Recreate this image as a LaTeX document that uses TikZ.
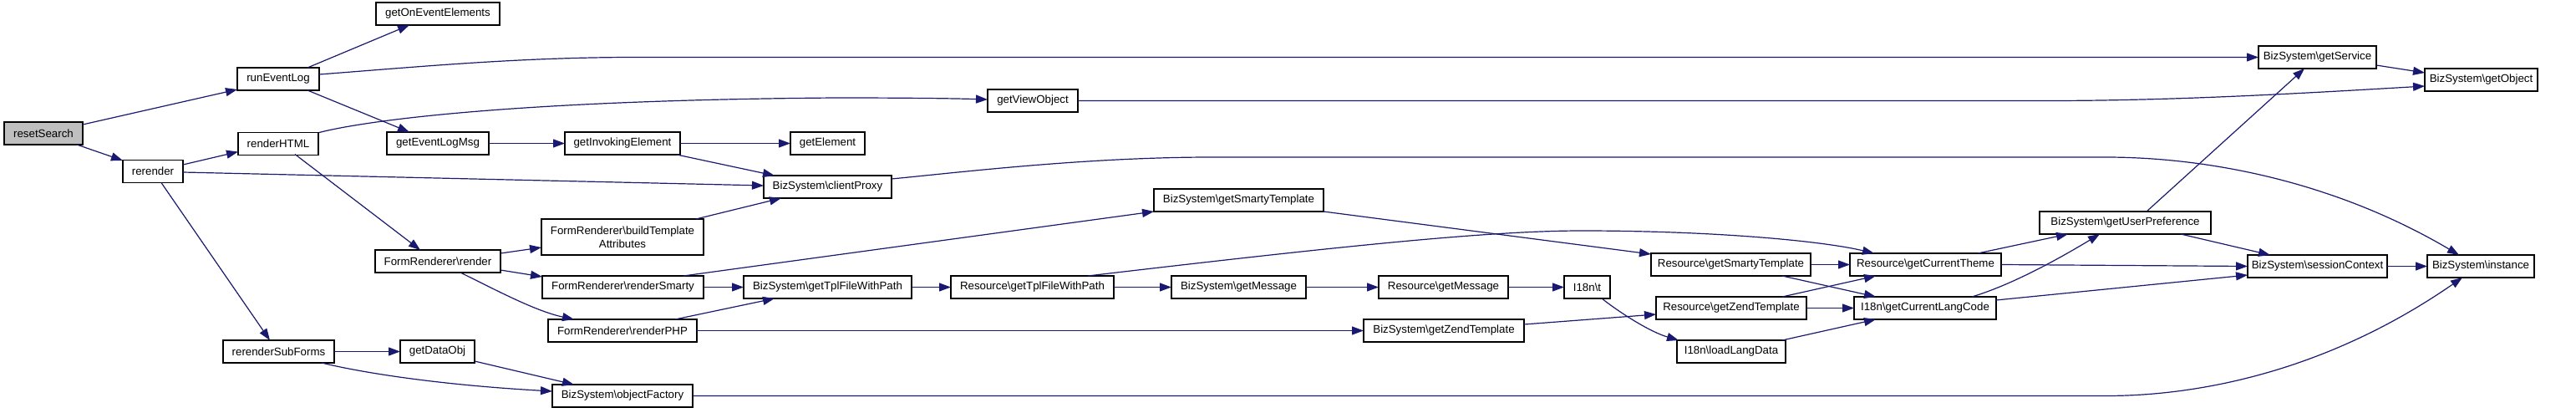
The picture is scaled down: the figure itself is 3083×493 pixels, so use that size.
\documentclass[tikz,border=0pt]{standalone}
\usepackage{fontspec}
\setmainfont{Liberation Sans}
\usetikzlibrary{arrows.meta,calc}
\definecolor{edgec}{RGB}{25,25,112}
\definecolor{rootfill}{RGB}{191,191,191}
\begin{document}
\begin{tikzpicture}[x=1pt,y=-1pt,
  box/.style={draw=black, line width=1.2pt, inner sep=0pt, outer sep=0pt, minimum height=27pt, font=\fontsize{13.3}{16}\selectfont, align=center, fill=white},
  edge/.style={draw=edgec, line width=1.2pt, -{Triangle[length=14pt,width=10pt]}}]
\fill[white] (0,0) rectangle (3083,493);
\useasboundingbox (0,0) rectangle (3083,493);
\node[box, fill=rootfill, minimum width=94pt] (rs) at (52,159.5) {resetSearch};
\node[box, minimum width=98pt] (rel) at (333,94.5) {runEventLog};
\node[box, minimum width=72pt] (rr) at (183,205) {rerender};
\node[box, minimum width=96pt] (rh) at (333,172) {renderHTML};
\node[box, minimum width=133pt] (rsf) at (333.5,420.5) {rerenderSubForms};
\node[box, minimum width=148pt] (goee) at (524,16.5) {getOnEventElements};
\node[box, minimum width=122pt] (gelm) at (524,171.5) {getEventLogMsg};
\node[box, minimum width=150pt] (frr) at (524,312.5) {FormRenderer\textbackslash render};
\node[box, minimum width=89pt] (gdo) at (523.5,420.5) {getDataObj};
\node[box, minimum width=138pt] (gie) at (745,171.5) {getInvokingElement};
\node[box, minimum width=89pt] (ge) at (990.5,171.5) {getElement};
\node[box, minimum width=153pt] (cp) at (990.5,223.5) {BizSystem\textbackslash clientProxy};
\node[box, minimum width=194pt, minimum height=43pt] (bta) at (745,283.5) {FormRenderer\textbackslash buildTemplate\\Attributes};
\node[box, minimum width=193pt] (rsm) at (745.5,343.5) {FormRenderer\textbackslash renderSmarty};
\node[box, minimum width=178pt] (rphp) at (745,395.5) {FormRenderer\textbackslash renderPHP};
\node[box, minimum width=168pt] (of) at (745,473.5) {BizSystem\textbackslash objectFactory};
\node[box, minimum width=201pt] (gtfp) at (990.5,343.5) {BizSystem\textbackslash getTplFileWithPath};
\node[box, minimum width=108pt] (gvo) at (1236,120.5) {getViewObject};
\node[box, minimum width=203pt] (bgst) at (1482.5,239.5) {BizSystem\textbackslash getSmartyTemplate};
\node[box, minimum width=195pt] (rgtfp) at (1235.5,343.5) {Resource\textbackslash getTplFileWithPath};
\node[box, minimum width=161pt] (bgm) at (1482.5,343.5) {BizSystem\textbackslash getMessage};
\node[box, minimum width=155pt] (rgm) at (1727.5,343.5) {Resource\textbackslash getMessage};
\node[box, minimum width=55pt] (it) at (1899.5,343.5) {I18n\textbackslash t};
\node[box, minimum width=192pt] (bgzt) at (1728,395.5) {BizSystem\textbackslash getZendTemplate};
\node[box, minimum width=191pt] (rgst) at (2071.5,316.5) {Resource\textbackslash getSmartyTemplate};
\node[box, minimum width=180pt] (rgzt) at (2072,368.5) {Resource\textbackslash getZendTemplate};
\node[box, minimum width=130pt] (ild) at (2072,420.5) {I18n\textbackslash loadLangData};
\node[box, minimum width=181pt] (rgct) at (2304.5,316.5) {Resource\textbackslash getCurrentTheme};
\node[box, minimum width=170pt] (igclc) at (2304,368.5) {I18n\textbackslash getCurrentLangCode};
\node[box, minimum width=205pt] (bgup) at (2543.5,266.5) {BizSystem\textbackslash getUserPreference};
\node[box, minimum width=141pt] (bgs) at (2773.5,68.5) {BizSystem\textbackslash getService};
\node[box, minimum width=135pt] (bgo) at (2969.5,95.5) {BizSystem\textbackslash getObject};
\node[box, minimum width=167pt] (bsc) at (2773.5,318.5) {BizSystem\textbackslash sessionContext};
\node[box, minimum width=128pt] (bi) at (2969,318.5) {BizSystem\textbackslash instance};

\draw[edge] ($(rs.north west)+(94,3)$) -- ($(rel.north west)+(0,26)$);
\draw[edge] ($(rs.north west)+(87,27)$) -- ($(rr.north west)+(0,0.5)$);
\draw[edge] ($(rel.north west)+(84,0)$) -- ($(goee.north west)+(40,27)$);
\draw[edge] ($(rel.north west)+(98,8)$) .. controls (500,80) and (620,68.5) .. (760,68.5) -- (bgs.west);
\draw[edge] ($(rel.north west)+(84,27)$) -- ($(gelm.north west)+(27,0)$);
\draw[edge] ($(rr.north west)+(72,5.5)$) -- ($(rh.north west)+(0,23)$);
\draw[edge] ($(rr.north west)+(72,14.5)$) -- ($(cp.north west)+(0,12)$);
\draw[edge] ($(rr.north west)+(46,27)$) -- ($(rsf.north west)+(56,0)$);
\draw[edge] ($(rh.north west)+(97,0)$) .. controls (430,146) and (600,120) .. (1000,117) .. controls (1100,117) and (1150,118) .. ($(gvo.north west)+(0,12)$);
\draw[edge] ($(rh.north west)+(68,26)$) -- ($(frr.north west)+(54,0)$);
\draw[edge] (gelm.east) -- (gie.west);
\draw[edge] (gie.east) -- (ge.west);
\draw[edge] ($(gie.north west)+(134,27)$) -- ($(cp.north west)+(13,0)$);
\draw[edge] ($(bta.north west)+(185,0)$) -- ($(cp.north west)+(21,27)$);
\draw[edge] ($(frr.north west)+(150,4)$) -- ($(bta.north west)+(0,34)$);
\draw[edge] ($(frr.north west)+(150,24)$) -- ($(rsm.north west)+(0,1)$);
\draw[edge] ($(frr.north west)+(102,27)$) .. controls (590,345) and (640,372) .. ($(rphp.north west)+(31,0)$);
\draw[edge] (rsm.east) -- (gtfp.west);
\draw[edge] ($(rsm.north west)+(169,0)$) -- ($(bgst.north west)+(0,27)$);
\draw[edge] ($(rphp.north west)+(152,0)$) -- ($(gtfp.north west)+(37,27)$);
\draw[edge] (rphp.east) -- (bgzt.west);
\draw[edge] (gtfp.east) -- (rgtfp.west);
\draw[edge] (rgtfp.east) -- (bgm.west);
\draw[edge] ($(rgtfp.north west)+(164,0)$) .. controls (1600,295) and (1780,276) .. (1893,276) .. controls (2050,276) and (2180,288) .. ($(rgct.north west)+(29,0)$);
\draw[edge] (bgm.east) -- (rgm.west);
\draw[edge] (rgm.east) -- (it.west);
\draw[edge] ($(it.north west)+(45,27)$) .. controls (1940,375) and (1975,397) .. ($(ild.north west)+(2,0)$);
\draw[edge] ($(bgst.north west)+(203,27)$) -- ($(rgst.north west)+(0,1)$);
\draw[edge] ($(bgzt.north west)+(192,6)$) -- ($(rgzt.north west)+(0,21)$);
\draw[edge] (rgst.east) -- (rgct.west);
\draw[edge] ($(rgst.north west)+(157,27)$) -- ($(igclc.north west)+(26,0)$);
\draw[edge] ($(rgzt.north west)+(151,0)$) -- ($(rgct.north west)+(31,27)$);
\draw[edge] (rgzt.east) -- (igclc.west);
\draw[edge] ($(ild.north west)+(126,0)$) -- ($(igclc.north west)+(26,27)$);
\draw[edge] ($(rgct.north west)+(153,0)$) -- ($(bgup.north west)+(34,27)$);
\draw[edge] (rgct.east) -- (bsc.west);
\draw[edge] ($(igclc.north west)+(141,0)$) .. controls (2400,343) and (2450,318) .. ($(bgup.north west)+(72,27)$);
\draw[edge] ($(igclc.north west)+(170,4)$) -- ($(bsc.north west)+(0,24)$);
\draw[edge] ($(bgup.north west)+(128,0)$) -- ($(bgs.north west)+(55,27)$);
\draw[edge] ($(bgup.north west)+(169,27)$) -- ($(bsc.north west)+(27,0)$);
\draw[edge] ($(bgs.north west)+(141,23)$) -- ($(bgo.north west)+(0,5)$);
\draw[edge] (gvo.east) -- (2450,120.5) .. controls (2600,120.5) and (2750,112) .. ($(bgo.north west)+(0,21)$);
\draw[edge] ($(cp.north west)+(153,4)$) .. controls (1150,206) and (1300,188) .. (1450,188) -- (2520,188) .. controls (2640,188) and (2792,216) .. ($(bi.north west)+(38,0)$);
\draw[edge] (bsc.east) -- (bi.west);
\draw[edge] (of.east) -- (2520,473.5) .. controls (2640,473.5) and (2791,440) .. ($(bi.north west)+(42,27)$);
\draw[edge] ($(gdo.north west)+(89,25)$) -- ($(of.north west)+(26,0)$);
\draw[edge] ($(rsf.north west)+(118,27)$) .. controls (430,445) and (520,460) .. ($(of.north west)+(0,8)$);
\draw[edge] (rsf.east) -- (gdo.west);
\end{tikzpicture}
\end{document}
